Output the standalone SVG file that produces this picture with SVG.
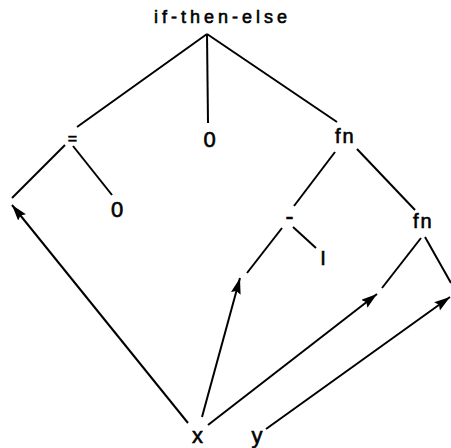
<svg xmlns="http://www.w3.org/2000/svg" width="451" height="448" viewBox="0 0 451 448">
  <style>
    .bg { fill: #ffffff; }
    .edge { stroke: #000; stroke-width: 2; fill: none; stroke-linecap: butt; }
    .arrow { stroke: #000; stroke-width: 2; fill: none; marker-end: url(#ah); }
    .lbl { font-family: "Liberation Sans", Arial, sans-serif; fill: #000; stroke: #000; stroke-width: 0.6; }
  </style>
  <defs>
    <marker id="ah" markerUnits="userSpaceOnUse" markerWidth="18" markerHeight="12" refX="16" refY="5" orient="auto">
      <path d="M0,0 L16,5 L0,10 L2.5,5 Z" fill="#000"/>
    </marker>
  </defs>
  <rect class="bg" x="0" y="0" width="451" height="448"/>

  <g id="connectors">
    <line class="edge" x1="207" y1="34" x2="77" y2="127"/>
    <line class="edge" x1="207" y1="34" x2="208" y2="123"/>
    <line class="edge" x1="207" y1="34" x2="337" y2="122"/>
    <line class="edge" x1="65" y1="145" x2="12" y2="198"/>
    <line class="edge" x1="73" y1="146" x2="112" y2="195"/>
    <line class="edge" x1="335" y1="152" x2="294" y2="206"/>
    <line class="edge" x1="357" y1="149" x2="415" y2="210"/>
    <line class="edge" x1="282" y1="228" x2="247" y2="273"/>
    <line class="edge" x1="293" y1="227" x2="316" y2="248"/>
    <line class="edge" x1="421" y1="238" x2="382" y2="288"/>
    <line class="edge" x1="425" y1="237" x2="451" y2="283"/>
    <line class="arrow" x1="188" y1="423" x2="12" y2="205"/>
    <line class="arrow" x1="202" y1="417" x2="240" y2="278"/>
    <line class="arrow" x1="208" y1="425" x2="377" y2="294"/>
    <line class="arrow" x1="266" y1="429" x2="450" y2="297"/>
  </g>

  <g id="node-ite">
    <text class="lbl" x="154" y="23" font-size="18" letter-spacing="4">if-then-else</text>
  </g>
  <g id="node-eq">
    <text class="lbl" x="72.5" y="143.5" font-size="16" text-anchor="middle">=</text>
  </g>
  <g id="node-zero-mid">
    <text class="lbl" x="209.5" y="147" font-size="22" text-anchor="middle">0</text>
  </g>
  <g id="node-fn1">
    <text class="lbl" x="335" y="143" font-size="20" letter-spacing="2">fn</text>
  </g>
  <g id="node-zero-left">
    <text class="lbl" x="117" y="217" font-size="22" text-anchor="middle">0</text>
  </g>
  <g id="node-minus">
    <text class="lbl" x="289.5" y="223.5" font-size="24" text-anchor="middle">-</text>
  </g>
  <g id="node-one">
    <text class="lbl" x="323" y="265" font-size="20" text-anchor="middle">I</text>
  </g>
  <g id="node-fn2">
    <text class="lbl" x="413" y="228" font-size="20" letter-spacing="2">fn</text>
  </g>
  <g id="node-x">
    <text class="lbl" x="197.5" y="443" font-size="22" text-anchor="middle">x</text>
  </g>
  <g id="node-y">
    <text class="lbl" x="257" y="443" font-size="22" text-anchor="middle">y</text>
  </g>
</svg>
